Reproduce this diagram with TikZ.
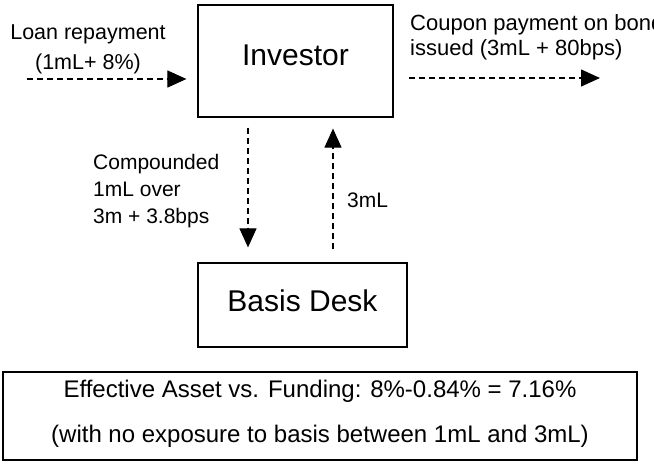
\documentclass[tikz,border=0pt]{standalone}
\usepackage{fontspec}
\setmainfont{Liberation Sans}
\usetikzlibrary{positioning}
\usetikzlibrary{arrows.meta}

\begin{document}
\begin{tikzpicture}
    [
    x=1pt, y=-1pt,
    box/.style={draw,line width=1.2pt,inner sep=0pt},
    flow/.style={dash pattern=on 6pt off 4pt,line width=1.1pt,-{Triangle[length=19pt,width=17pt]}},
    lbl/.style={inner sep=0pt}
    ]
    \useasboundingbox (0,0) rectangle (654,471);
    \node (inv) at (295.5,61) [box, minimum width=195pt, minimum height=112pt, text depth=12pt, font=\fontsize{30}{36}\selectfont] {Investor};
    \node (basis) at (302.5,305) [box, minimum width=209pt, minimum height=84pt, text depth=8pt, font=\fontsize{30}{36}\selectfont] {Basis Desk};
    \node (result) at (320,416) [box, minimum width=634pt, minimum height=88pt, text depth=10pt, align=center, font=\fontsize{24}{45}\selectfont] {Effective Asset vs. Funding: 8\%-0.84\% = 7.16\%\\(with no exposure to basis between 1mL and 3mL)};

    \node (loan) at (88,24.5) [lbl, anchor=north, align=center, font=\fontsize{21.5}{30}\selectfont] {Loan repayment\\(1mL+ 8\%)};
    \node (coupon) at (410,14.5) [lbl, anchor=north west, align=left, font=\fontsize{22}{25}\selectfont] {Coupon payment on bond\\issued (3mL + 80bps)};
    \node (comp) at (93,154.5) [lbl, anchor=north west, align=left, font=\fontsize{21}{27}\selectfont] {Compounded\\1mL over\\3m + 3.8bps};
    \node (three) at (347,200) [lbl, anchor=west, font=\fontsize{21}{27}\selectfont] {3mL};

    \coordinate (loanin) at (27,79);
    \coordinate (couponout) at (600,78);
    \draw [flow, shorten >=11pt] (loanin) to (inv.west |- loanin);
    \draw [flow, shorten <=15pt] (inv.east |- couponout) to (couponout);
    \draw [flow, shorten <=10pt, shorten >=15pt] ([xshift=-47.5pt]inv.south) to ([xshift=-54.5pt]basis.north);
    \draw [flow, shorten <=13pt, shorten >=11pt] ([xshift=30.5pt]basis.north) to ([xshift=37.5pt]inv.south);
  \end{tikzpicture}
\end{document}
